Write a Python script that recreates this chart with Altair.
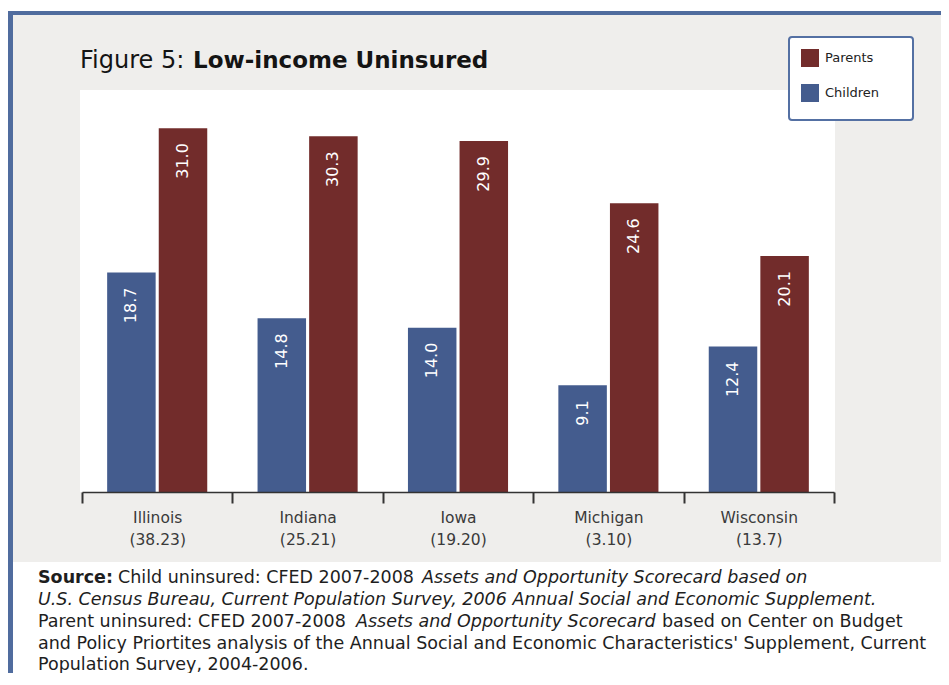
import altair as alt
import pandas as pd

# ---------------- data ----------------
states = ["Illinois", "Indiana", "Iowa", "Michigan", "Wisconsin"]
state_notes = ["(38.23)", "(25.21)", "(19.20)", "(3.10)", "(13.7)"]
children = [18.7, 14.8, 14.0, 9.1, 12.4]
parents = [31.0, 30.3, 29.9, 24.6, 20.1]
series_names = ["Parents", "Children"]
series_colors = ["#722c2b", "#445c8e"]

cat_order = [f"{s}|{n}" for s, n in zip(states, state_notes)]
rows = []
for lab, c, p in zip(cat_order, children, parents):
    rows.append({"cat": lab, "series": "Children", "value": c})
    rows.append({"cat": lab, "series": "Parents", "value": p})
df = pd.DataFrame(rows)

FONT = "DejaVu Sans"
W, H = 752, 402
OX, OY = 82, 90  # page position of plot origin (for decoration conversion)

one = pd.DataFrame({"k": [0]})


def box(x1, x2, y1, y2, **kw):
    return alt.Chart(one).mark_rect(**kw).encode(
        x=alt.value(x1 - OX), x2=alt.value(x2 - OX),
        y=alt.value(y1 - OY), y2=alt.value(y2 - OY))


def label(txt, x, y, size, weight="normal", style="normal", color="#1e1e1e"):
    return alt.Chart(one).mark_text(
        text=txt, align="left", baseline="alphabetic", font=FONT,
        fontSize=size, fontWeight=weight, fontStyle=style, color=color
    ).encode(x=alt.value(x - OX), y=alt.value(y - OY))


frame = box(8, 960, 11, 720, color="#506c9e")
gray = box(13, 960, 15, 562, color="#efeeec")
src_bg = box(13, 960, 562, 720, color="#ffffff")
plot_bg = box(80, 835, 90, 492, color="#ffffff")
legend_box = box(789, 913, 37, 120, fill="#ffffff", stroke="#5470a3",
                 strokeWidth=2, cornerRadius=3)

x_enc = alt.X(
    "cat:N", sort=cat_order,
    scale=alt.Scale(paddingInner=0, paddingOuter=0),
    axis=alt.Axis(
        title=None,
        labelExpr="datum.value ? split(datum.value, '|') : ''",
        labelAngle=0,
        tickBand="extent", tickSize=11, tickWidth=2, tickColor="#333333",
        domainColor="#333333", domainWidth=1.5, labelFont=FONT,
        labelFontSize=15.5, labelColor="#3a3a3a", labelLineHeight=22,
        labelBaseline="top", labelPadding=7, zindex=1, labelAlign="center"))
xo_enc = alt.XOffset("series:N", sort=["Children", "Parents"],
                     scale=alt.Scale(paddingInner=0.06, paddingOuter=0.4875))
y_enc = alt.Y("value:Q", scale=alt.Scale(domain=[0, 34.25], nice=False), axis=None)

base = alt.Chart(df)
bars = base.mark_bar().encode(
    x=x_enc, xOffset=xo_enc, y=y_enc,
    color=alt.Color(
        "series:N", scale=alt.Scale(domain=series_names, range=series_colors),
        legend=alt.Legend(
            title=None, orient="none", legendX=801 - OX, legendY=49 - OY,
            symbolType="square", symbolSize=324, symbolStrokeWidth=0,
            labelFont=FONT, labelFontSize=13, labelColor="#222222",
            labelOffset=6, rowPadding=17, padding=0, zindex=1)))
bar_text = base.mark_text(
    angle=270, align="right", baseline="middle", dx=-15, color="white",
    font=FONT, fontSize=16
).encode(x=x_enc, xOffset=xo_enc, y=y_enc,
         text=alt.Text("value:Q", format=".1f"))

FS = 17.5
texts = [
    label("Figure 5:", 80, 68, 24, color="#141414"),
    label("Low-income Uninsured", 193, 68, 23, weight="bold", color="#141414"),
    label("Source:", 38, 583, FS, weight="bold"),
    label("Child uninsured: CFED 2007-2008", 118, 583, FS),
    label("Assets and Opportunity Scorecard based on", 422, 583, FS, style="italic"),
    label("U.S. Census Bureau, Current Population Survey, 2006 Annual Social and Economic Supplement.",
          38, 605, FS, style="italic"),
    label("Parent uninsured: CFED 2007-2008", 38, 627, FS),
    label("Assets and Opportunity Scorecard", 356, 627, FS, style="italic"),
    label("based on Center on Budget", 662, 627, FS),
    label("and Policy Priortites analysis of the Annual Social and Economic Characteristics' Supplement, Current",
          38, 648.5, FS),
    label("Population Survey, 2004-2006.", 38, 669.5, FS),
]

chart = alt.layer(
    frame, gray, src_bg, plot_bg, legend_box, bars, bar_text, *texts
).properties(
    width=W, height=H,
    autosize=alt.AutoSizeParams(type="none"),
    padding={"left": 74, "top": 82, "right": 107, "bottom": 181},
    background="white",
).configure_view(stroke="transparent")

chart.save("out.html", embed_options={"renderer": "svg", "actions": False})
